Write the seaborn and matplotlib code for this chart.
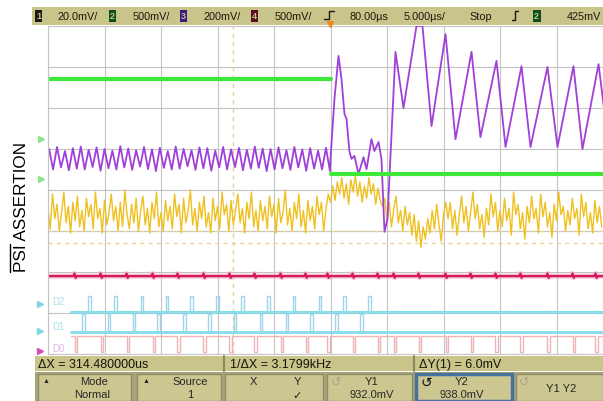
import numpy as np
import pandas as pd
import matplotlib
matplotlib.use("Agg")
import matplotlib.pyplot as plt
from matplotlib import font_manager
from matplotlib.patches import Rectangle
import seaborn as sns

# time in us from the trigger, levels in screen divisions from the centre line
ch1_start = -25.0
ch1_step = 0.2
ch1_div = [
    -0.45, -0.95, -0.10, -0.70, -0.35, -1.00, -0.55, -0.05, -0.80, -0.40,
    -1.05, -0.30, -0.75, -0.15, -0.90, -0.50, -1.00, -0.20, -0.65, -0.35,
    -0.95, -0.05, -0.70, -0.45, -1.05, -0.25, -0.85, -0.55, -0.10, -0.75,
    -0.40, -1.00, -0.30, -0.90, 0.00, -0.60, -0.95, -0.35, -0.80, -0.20,
    -1.00, -0.50, -0.15, -0.85, -0.45, -1.05, -0.30, -0.70, -0.05, -0.90,
    -0.55, -1.00, -0.25, -0.75, -0.40, -0.95, -0.10, -0.65, -0.35, -1.05,
    -0.20, -0.80, -0.50, 0.00, -0.85, -0.45, -1.00, -0.30, -0.70, -0.15,
    -0.90, -0.55, -1.05, -0.20, -0.75, -0.40, -0.95, -0.05, -0.60, -0.35,
    -1.00, -0.25, -0.85, -0.50, -0.10, -0.80, -0.45, -1.05, -0.30, -0.70,
    -0.05, -0.90, -0.50, -1.00, -0.25, -0.75, -0.40, -0.95, -0.15, -0.65,
    -0.35, -1.05, -0.20, -0.80, -0.55, 0.00, -0.85, -0.45, -1.00, -0.30,
    -0.70, -0.10, -0.90, -0.50, -1.05, -0.25, -0.75, -0.40, -0.95, -0.15,
    -0.60, -0.30, -1.00, -0.45, -0.10,
    # after trigger
    -0.30, 0.10, -0.25, 0.20, -0.10, 0.30, -0.20, 0.15, -0.35, 0.25,
    -0.05, 0.35, -0.15, 0.20, -0.30, 0.10, -0.20, 0.30, -0.10, 0.15,
    -0.35, 0.05, -0.25, -0.40,
    -0.20, -0.75, -0.30, -0.90, -0.45, -0.15, -0.80, -0.50, -1.00, -0.40,
    -0.85, -0.55, -1.10, -0.60, -1.25, -0.75, -1.40, -0.90, -1.20, -0.70,
    -1.05, -0.50, -0.95, -0.35, -0.85, -1.25, -0.60, -0.30,
    -0.70, -0.30, -0.95, -0.50, -1.10, -0.60, -0.15, -0.80, -0.40, -1.00,
    -0.55, -0.05, -0.70, -0.35, -0.95, -0.60, -1.15, -0.45, -0.85, -0.10,
    -0.65, -0.30, -1.00, -0.50, -0.90, -0.20, -0.75, -0.45, -1.10, -0.05,
    -0.60, -0.35, -0.95, -0.55, -1.20, -0.40, -0.80, -0.15, -0.70, -0.45,
    -1.05, -0.10, -0.65, -0.30, -0.90, -0.55, -1.15, -0.35, -0.75, -0.05,
    -0.60, -0.40, -1.00, -0.50, -0.85, -0.20, -0.70, -0.45, -1.10, -0.10,
    -0.65, -0.30, -0.95, -0.55, -1.05, -0.25, -0.80, -0.40, -0.90,
]

ch2_t = [-25.0, 0.0, 0.0, 24.2]
ch2_div = [2.71, 2.71, 0.39, 0.39]
ch2_seg = [0, 0, 1, 1]

ch3_pre_start = -24.9
ch3_pre_step = 0.35
ch3_pre_div = [
    1.00, 0.50, 1.05, 0.55, 0.95, 0.48, 1.02, 0.52, 1.06, 0.50, 0.98, 0.56,
    1.04, 0.47, 1.00, 0.53, 0.96, 0.50, 1.07, 0.55, 1.01, 0.49, 0.97, 0.57,
    1.05, 0.51, 0.99, 0.46, 1.03, 0.54, 0.95, 0.50, 1.06, 0.52, 1.00, 0.58,
    0.97, 0.49, 1.04, 0.53, 1.02, 0.47, 0.96, 0.55, 1.05, 0.50, 0.99, 0.56,
    1.03, 0.48, 0.98, 0.52, 1.06, 0.54, 1.01, 0.46, 1.00, 0.50, 1.04, 0.53,
    0.97, 0.49, 1.05, 0.55, 0.99, 0.47, 1.02, 0.52, 0.96, 0.50, 1.03, 0.46,
]
ch3_post_t = [0.0, 0.35, 0.71, 0.97, 1.24, 1.42, 1.68, 1.86, 2.12, 2.48, 2.92,
              3.19, 3.63, 3.89, 4.25, 4.51, 4.78, 5.04, 5.75, 6.46, 7.61, 8.14,
              8.94, 10.18, 11.06, 12.48, 13.27, 14.69, 15.49, 16.90, 17.70,
              19.20, 20.09, 21.50, 22.30, 23.72, 24.2]
ch3_post_div = [0.76, 2.22, 3.27, 2.71, 1.85, 1.73, 0.93, 0.76, 0.83, 0.39, 0.80,
                0.51, 1.24, 0.95, 1.17, 0.76, -1.02, -0.71, 3.37, 2.00, 4.00, 4.00,
                1.56, 3.80, 1.24, 3.37, 1.29, 3.15, 1.05, 3.02, 1.05,
                3.00, 1.05, 3.02, 1.00, 3.07, 2.00]

ch4_level = -2.10
ch4_spike_t = [-22.65, -20.35, -18.05, -15.75, -13.54, -11.24, -8.94, -6.73,
               -4.42, -2.21, -0.27, 1.95, 4.16, 5.58, 7.79, 10.18, 12.39, 14.6,
               16.81, 19.2, 21.42, 23.45]

d2_low, d2_high = -2.98, -2.59
d2_pulse_t = [-21.42, -19.12, -16.81, -14.6, -12.39, -10.09, -7.88, -5.58,
              -3.36, -1.06, 1.15, 3.36]
d1_low, d1_high = -3.46, -3.02
d1_pulse_t = [-21.95, -19.73, -17.52, -15.31, -13.01, -10.8, -8.58, -6.28,
              -3.98, -1.77, 0.44, 2.65]
d0_high, d0_low = -3.57, -3.95
d0_pulse_t = ch4_spike_t

cursor_y = [-1.0, -1.29]
cursor_x = -8.63

header_scales = ["20.0mV/", "500mV/", "200mV/", "500mV/"]
status_texts = ["\u0394X = 314.480000us", "1/\u0394X = 3.1799kHz", "\u0394Y(1) = 6.0mV"]

KHAKI = "#c9c489"
GRID = "#c4c4c4"


def has_font(name):
    try:
        font_manager.findfont(font_manager.FontProperties(family=name),
                              fallback_to_default=False)
        return True
    except ValueError:
        return False


def pulses(times, base, level, width, t0, t1):
    xs, ys = [t0], [base]
    for t in times:
        xs += [t, t, t + width, t + width]
        ys += [base, level, level, base]
    xs.append(t1)
    ys.append(base)
    return xs, ys


sns.set_style("white")
plt.rcParams["font.family"] = ["Liberation Sans", "DejaVu Sans"]

fig = plt.figure(figsize=(6.03, 4.02), dpi=100)
ax = fig.add_axes([48 / 603, 47 / 402, 555 / 603, 328 / 402])
ax.set_xlim(-25, 24.115)
ax.set_ylim(-4, 4)
ax.set_xticks(np.arange(-25, 25, 5))
ax.set_yticks(np.arange(-4, 5, 1))
ax.grid(True, color=GRID, lw=0.8)
ax.tick_params(length=0, labelbottom=False, labelleft=False)
for side, sp in ax.spines.items():
    sp.set_visible(side in ("left", "bottom"))
    sp.set_color(GRID)
    sp.set_linewidth(0.8)

# cursors
for cy in cursor_y:
    ax.axhline(cy, color="#e9d58e", lw=1, ls=(0, (3, 3)), zorder=1)
ax.axvline(cursor_x, color="#e8cf9c", lw=1, ls=(0, (3, 3)), zorder=1)

# digital channels
kw = dict(estimator=None, sort=False, ax=ax, legend=False)
t_dig0 = -23.0
ax.plot([t_dig0, 24.2], [d2_low, d2_low], color="#66e2e8", lw=2.0, zorder=2)
ax.plot([t_dig0, 24.2], [d1_low, d1_low], color="#66e2e8", lw=2.0, zorder=2)
x, y = pulses(d2_pulse_t, d2_low, d2_high, 0.25, t_dig0, 24.2)
sns.lineplot(x=x, y=y, color="#9fd6ea", lw=1.0, **kw)
x, y = pulses(d1_pulse_t, d1_low, d1_high, 0.25, t_dig0, 24.2)
sns.lineplot(x=x, y=y, color="#9fd6ea", lw=1.0, **kw)
x, y = pulses(d0_pulse_t, d0_high, d0_low, 0.25, t_dig0, 24.2)
sns.lineplot(x=x, y=y, color="#f1b3b8", lw=1.0, **kw)

# ch1 (yellow)
ch1_t = ch1_start + ch1_step * np.arange(len(ch1_div))
sns.lineplot(x=ch1_t, y=ch1_div, color="#f0c020", lw=1.0, **kw)

# ch4 (red) with its small glitches
rx, ry = [-25.0], [ch4_level]
for ts in ch4_spike_t:
    rx += [ts - 0.1, ts, ts + 0.1, ts + 0.2]
    ry += [ch4_level, ch4_level + 0.06, ch4_level - 0.04, ch4_level]
rx.append(24.2)
ry.append(ch4_level)
ax.plot(rx, ry, color="#f4a9c4", lw=4.0, alpha=0.5, zorder=2)
sns.lineplot(x=rx, y=ry, color="#d41a5c", lw=1.7, **kw)
ax.set_xlabel("")
ax.set_ylabel("")

# ch3 (purple)
ch3_t = list(ch3_pre_start + ch3_pre_step * np.arange(len(ch3_pre_div))) + ch3_post_t
ch3_v = ch3_pre_div + ch3_post_div
sns.lineplot(x=ch3_t, y=ch3_v, color="#a040d8", lw=1.3, **kw)

# ch2 (green)
df2 = pd.DataFrame({"t": ch2_t, "v": ch2_div, "seg": ch2_seg})
sns.lineplot(data=df2, x="t", y="v", units="seg", estimator=None, sort=False,
             color="#3ee83a", lw=3.0, ax=ax, legend=False)
ax.set_xlabel("")
ax.set_ylabel("")

# ---- overlay in pixel coordinates for the scope frame ----
ov = fig.add_axes([0, 0, 1, 1], zorder=5)
ov.set_xlim(0, 603)
ov.set_ylim(402, 0)
ov.axis("off")
ov.patch.set_alpha(0)

# header bar
ov.add_patch(Rectangle((32, 8), 571, 18, color=KHAKI, lw=0))
box_x = [35, 109, 180, 251]
box_c = ["#1b1b12", "#0f4f1e", "#3b1a86", "#5a0f22"]
text_x = [58, 133, 204, 275]
for i, s in enumerate(header_scales):
    ov.add_patch(Rectangle((box_x[i], 10.5), 7, 12, color=box_c[i], lw=0))
    ov.text(box_x[i] + 3.5, 16.8, str(i + 1), color=KHAKI, fontsize=6.5,
            ha="center", va="center", fontweight="bold")
    ov.text(text_x[i], 17, s, fontsize=7.8, va="center", color="#1a1a10")
ov.plot([324, 329, 329, 334], [20, 20, 12, 12], color="#1a1a10", lw=1)
ov.plot([329.5], [25], marker="v", color="#f08a20", ms=5)
ov.text(350, 17, "80.00\u00b5s", fontsize=7.8, va="center", color="#1a1a10")
ov.text(404, 17, "5.000\u00b5s/", fontsize=7.8, va="center", color="#1a1a10")
ov.text(469, 17, "Stop", fontsize=7.8, va="center", color="#1a1a10")
ov.plot([512, 515, 515, 518], [21, 21, 12, 12], color="#1a1a10", lw=1)
ov.add_patch(Rectangle((533, 10.5), 7.5, 12, color="#0f4f1e", lw=0))
ov.text(536.7, 16.8, "2", color=KHAKI, fontsize=6.5, ha="center", va="center",
        fontweight="bold")
ov.text(567, 17, "425mV", fontsize=7.8, va="center", color="#1a1a10")

# channel markers on the left edge
ov.plot([41, 41], [140, 180], ls="none", marker=">", color="#8fe28a", ms=5)
ov.plot([40, 40], [305, 332], ls="none", marker=">", color="#7fd6e4", ms=5)
ov.plot([40], [352], ls="none", marker=">", color="#d050b8", ms=5)
for yy, lab, c in [(302, "D2", "#a9e2ec"), (327, "D1", "#a9e2ec"), (349, "D0", "#d9b4ec")]:
    ov.text(52, yy, lab, fontsize=7, va="center", color=c)

# left annotation
if has_font("Liberation Sans Narrow"):
    lab_font, lab_size = ["Liberation Sans Narrow", "DejaVu Sans"], 15
else:
    lab_font, lab_size = ["Liberation Sans", "DejaVu Sans"], 12.3
ov.text(22, 207, "PSI ASSERTION", rotation=90, ha="center", va="center",
        family=lab_font, fontsize=lab_size, color="black")
ov.plot([10, 10], [245, 273], color="black", lw=1)

# status row
ov.add_patch(Rectangle((35, 357), 568, 15, color=KHAKI, lw=0))
for sx in (224, 414):
    ov.plot([sx, sx], [357, 372], color="#8c8862", lw=1.5)
for sx, s in zip([38, 230, 419], status_texts):
    ov.text(sx, 365, s, fontsize=9, va="center", color="#15150c")

# soft keys
ov.add_patch(Rectangle((35, 373), 568, 29, color="#a8a47a", lw=0))
keys = [(38, 131), (137, 221), (225, 323), (327, 412), (416, 512), (516, 603)]
for i, (k0, k1) in enumerate(keys):
    edge = "#46719e" if i == 4 else "#8f8c6a"
    lw = 2.5 if i == 4 else 1.0
    ov.add_patch(Rectangle((k0, 375), k1 - k0, 27, facecolor="#ccc791",
                           edgecolor=edge, lw=lw))
fs = 8
ov.text(46, 382, "\u25b2", fontsize=5, ha="center", va="center", color="#222")
ov.text(94, 382, "Mode", fontsize=fs, ha="center", va="center")
ov.text(92, 395, "Normal", fontsize=fs, ha="center", va="center")
ov.text(146, 382, "\u25b2", fontsize=5, ha="center", va="center", color="#222")
ov.text(190, 382, "Source", fontsize=fs, ha="center", va="center")
ov.text(190, 395, "1", fontsize=fs, ha="center", va="center")
ov.text(253, 382, "X", fontsize=fs, ha="center", va="center")
ov.text(297, 382, "Y", fontsize=fs, ha="center", va="center")
ov.text(297, 396, "\u2713", fontsize=fs, ha="center", va="center")
ov.text(336, 383, "\u21ba", fontsize=9, ha="center", va="center", color="#a9a68a")
ov.text(372, 382, "Y1", fontsize=fs, ha="center", va="center")
ov.text(372, 395, "932.0mV", fontsize=fs, ha="center", va="center")
ov.text(426, 383, "\u21ba", fontsize=10, ha="center", va="center", color="#111")
ov.text(462, 382, "Y2", fontsize=fs, ha="center", va="center")
ov.text(462, 395, "938.0mV", fontsize=fs, ha="center", va="center")
ov.text(524, 383, "\u21ba", fontsize=9, ha="center", va="center", color="#a9a68a")
ov.text(561, 389, "Y1 Y2", fontsize=fs, ha="center", va="center")

fig.savefig("out.png", dpi=100)
